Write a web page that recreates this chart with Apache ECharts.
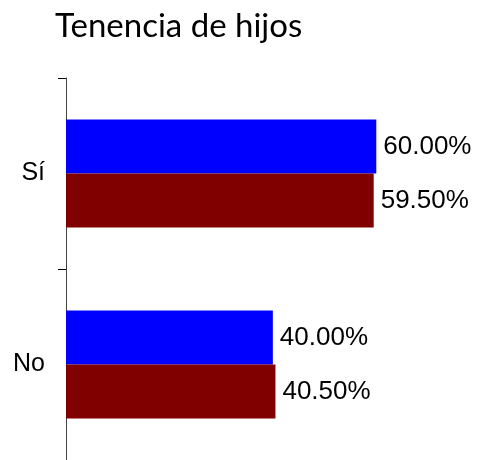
<!DOCTYPE html>
<html>
<head>
<meta charset="utf-8">
<script src="https://cdn.jsdelivr.net/npm/echarts@6/dist/echarts.min.js"></script>
<style>
  html, body { margin: 0; padding: 0; background: #fff; }
  #chart { width: 477px; height: 460px; }
</style>
</head>
<body>
<div id="chart"></div>
<script>
var categories = ['Sí', 'No'];
var serieAzul = [60.0, 40.0];
var serieRoja = [59.5, 40.5];

var chart = echarts.init(document.getElementById('chart'));

var etiqueta = {
  show: true,
  position: 'right',
  distance: 7,
  color: '#000',
  fontFamily: 'Liberation Sans, Arial, sans-serif',
  fontSize: 26,
  formatter: function(p) {
    return p.value.toFixed(2) + '%';
  }
};

var option = {
  animation: false,
  title: {
    text: 'Tenencia de hijos',
    left: 50,
    top: 5,
    textStyle: {
      fontFamily: 'Lato, sans-serif',
      fontWeight: 'normal',
      fontSize: 33,
      color: '#000'
    }
  },
  grid: {
    left: 66,
    top: 78,
    width: 362,
    height: 384
  },
  xAxis: {
    type: 'value',
    min: 0,
    max: 70,
    show: false
  },
  yAxis: {
    type: 'category',
    data: categories,
    inverse: true,
    axisLine: { lineStyle: { color: '#444', width: 1 } },
    axisTick: { show: true, length: 8, lineStyle: { color: '#000', width: 1 } },
    axisLabel: {
      margin: 21,
      color: '#000',
      fontFamily: 'Liberation Sans, Arial, sans-serif',
      fontSize: 25
    }
  },
  series: [{
    name: 'a',
    type: 'bar',
    data: serieAzul,
    barWidth: 54,
    barGap: '0%',
    itemStyle: { color: '#0000ff' },
    label: etiqueta
  }, {
    name: 'b',
    type: 'bar',
    data: serieRoja,
    barWidth: 54,
    barGap: '0%',
    itemStyle: { color: '#800000' },
    label: etiqueta
  }]
};

chart.setOption(option);
</script>
</body>
</html>
